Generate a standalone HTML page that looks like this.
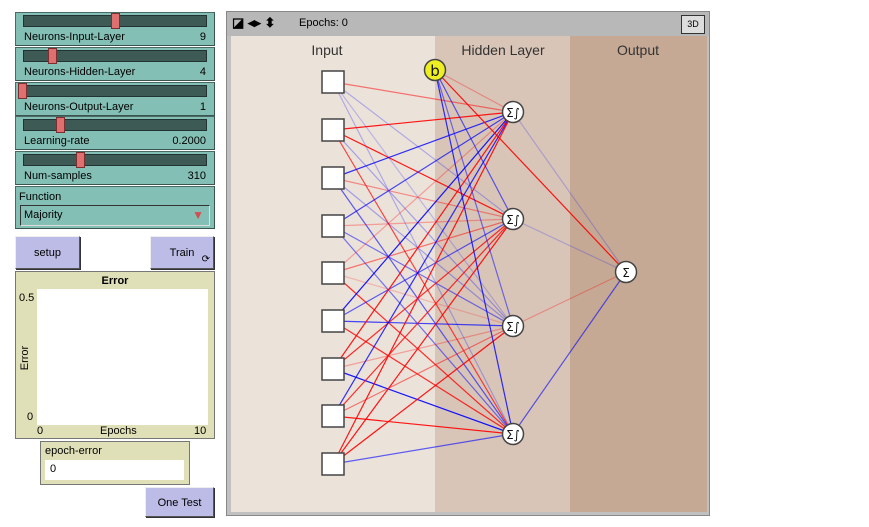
<!DOCTYPE html>
<html><head><meta charset="utf-8"><style>
body{margin:0;width:869px;height:527px;background:#fff;font-family:"Liberation Sans",sans-serif;font-size:11px;position:relative;overflow:hidden}
.a{position:absolute;box-sizing:border-box}
.sl{background:#84bfb5;border:1px solid #4a6a66;border-right-color:#3a5550;border-bottom-color:#3a5550}
.tr{position:absolute;left:7px;right:7px;top:2px;height:10px;background:#3d5a55;border:1px solid #233}
.kn{position:absolute;top:0px;width:7px;height:14px;background:#e07070;border:1px solid #7a3030}
.lb{position:absolute;left:8px;top:18px}
.vl{position:absolute;right:8px;top:18px}
.btn{background:#bcbce6;border:1px solid #555;border-top-color:#eee;border-left-color:#eee;box-shadow:1px 1px 0 #333;text-align:center}
</style></head><body>
<div class="a sl" style="left:15px;top:12px;width:200px;height:34px"><div class="tr"></div><div class="kn" style="left:95px"></div><span class="lb">Neurons-Input-Layer</span><span class="vl">9</span></div>
<div class="a sl" style="left:15px;top:47px;width:200px;height:34px"><div class="tr"></div><div class="kn" style="left:32px"></div><span class="lb">Neurons-Hidden-Layer</span><span class="vl">4</span></div>
<div class="a sl" style="left:15px;top:82px;width:200px;height:34px"><div class="tr"></div><div class="kn" style="left:2px"></div><span class="lb">Neurons-Output-Layer</span><span class="vl">1</span></div>
<div class="a sl" style="left:15px;top:116px;width:200px;height:34px"><div class="tr"></div><div class="kn" style="left:40px"></div><span class="lb">Learning-rate</span><span class="vl">0.2000</span></div>
<div class="a sl" style="left:15px;top:151px;width:200px;height:34px"><div class="tr"></div><div class="kn" style="left:60px"></div><span class="lb">Num-samples</span><span class="vl">310</span></div>
<div class="a sl" style="left:15px;top:186px;width:200px;height:43px"><span style="position:absolute;left:3px;top:4px">Function</span>
<div style="position:absolute;left:4px;right:4px;top:18px;height:19px;border:1px solid #333;border-right-color:#ddd;border-bottom-color:#ddd;background:#84bfb5"><span style="position:absolute;left:3px;top:3px">Majority</span><span style="position:absolute;right:5px;top:2px;color:#d05050;font-size:12px">▼</span></div></div>
<div class="a btn" style="left:15px;top:236px;width:65px;height:33px;line-height:33px">setup</div>
<div class="a btn" style="left:150px;top:236px;width:64px;height:33px;line-height:33px">Train <span style="position:absolute;right:3px;top:6px;font-size:10px">⟳</span></div>
<div class="a" style="left:15px;top:271px;width:200px;height:168px;background:#e0e0b8;border:1px solid #777">
<div style="position:absolute;left:0;right:0;top:3px;text-align:center;font-weight:bold">Error</div>
<div style="position:absolute;left:21px;top:17px;width:171px;height:136px;background:#fff"></div>
<span style="position:absolute;left:3px;top:20px">0.5</span><span style="position:absolute;left:11px;top:139px">0</span>
<span style="position:absolute;left:-3px;top:80px;transform:rotate(-90deg)">Error</span>
<span style="position:absolute;left:21px;top:153px">0</span><span style="position:absolute;left:84px;top:153px">Epochs</span><span style="position:absolute;left:178px;top:153px">10</span></div>
<div class="a" style="left:40px;top:441px;width:150px;height:44px;background:#e0e0b8;border:1px solid #777"><span style="position:absolute;left:4px;top:3px">epoch-error</span><div style="position:absolute;left:4px;top:18px;width:139px;height:20px;background:#fff"><span style="position:absolute;left:5px;top:3px">0</span></div></div>
<div class="a btn" style="left:145px;top:487px;width:69px;height:30px;line-height:30px">One Test</div>

<div class="a" style="left:226px;top:11px;width:484px;height:505px;border:1px solid #888;background:#c0c0c0">
<div style="position:absolute;left:0;top:0;width:482px;height:24px;background:#b8b8b8"><span style="position:absolute;left:5px;top:3px;font-size:13px;font-weight:bold">◪ ◂▸ ⬍</span><span style="position:absolute;left:72px;top:5px">Epochs: 0</span>
<div style="position:absolute;right:4px;top:3px;width:22px;height:17px;border:1px solid #333;background:#ddd;font-size:9px;text-align:center;line-height:17px">3D</div></div>
</div>
<svg class="a" style="left:231px;top:36px" width="476" height="476" viewBox="231 36 476 476">
<rect x="231" y="36" width="204" height="476" fill="#ebe2da"/><rect x="435" y="36" width="135" height="476" fill="#d8c5b8"/><rect x="570" y="36" width="137" height="476" fill="#c5a994"/>
<g font-family="Liberation Sans,sans-serif" font-size="14" fill="#333" text-anchor="middle"><text x="327" y="55">Input</text><text x="503" y="55">Hidden Layer</text><text x="638" y="55">Output</text></g>
<g stroke-width="1.2">
<line x1="333" y1="82" x2="513" y2="112" stroke="#f00" opacity=".5"/><line x1="333" y1="82" x2="513" y2="219" stroke="#00f" opacity=".25"/><line x1="333" y1="82" x2="513" y2="326" stroke="#00f" opacity=".2"/><line x1="333" y1="82" x2="513" y2="434" stroke="#00f" opacity=".25"/>
<line x1="333" y1="130" x2="513" y2="112" stroke="#f00" opacity=".9"/><line x1="333" y1="130" x2="513" y2="219" stroke="#f00" opacity=".9"/><line x1="333" y1="130" x2="513" y2="326" stroke="#00f" opacity=".3"/><line x1="333" y1="130" x2="513" y2="434" stroke="#f00" opacity=".7"/>
<line x1="333" y1="178" x2="513" y2="112" stroke="#00f" opacity=".8"/><line x1="333" y1="178" x2="513" y2="219" stroke="#f00" opacity=".4"/><line x1="333" y1="178" x2="513" y2="326" stroke="#00f" opacity=".3"/><line x1="333" y1="178" x2="513" y2="434" stroke="#00f" opacity=".6"/>
<line x1="333" y1="226" x2="513" y2="112" stroke="#00f" opacity=".7"/><line x1="333" y1="226" x2="513" y2="219" stroke="#f00" opacity=".3"/><line x1="333" y1="226" x2="513" y2="326" stroke="#00f" opacity=".5"/><line x1="333" y1="226" x2="513" y2="434" stroke="#00f" opacity=".5"/>
<line x1="333" y1="273" x2="513" y2="112" stroke="#f00" opacity=".3"/><line x1="333" y1="273" x2="513" y2="219" stroke="#f00" opacity=".5"/><line x1="333" y1="273" x2="513" y2="326" stroke="#f00" opacity=".2"/><line x1="333" y1="273" x2="513" y2="434" stroke="#f00" opacity=".8"/>
<line x1="333" y1="321" x2="513" y2="112" stroke="#00f" opacity=".9"/><line x1="333" y1="321" x2="513" y2="219" stroke="#00f" opacity=".6"/><line x1="333" y1="321" x2="513" y2="326" stroke="#00f" opacity=".7"/><line x1="333" y1="321" x2="513" y2="434" stroke="#f00" opacity=".8"/>
<line x1="333" y1="369" x2="513" y2="112" stroke="#f00" opacity=".9"/><line x1="333" y1="369" x2="513" y2="219" stroke="#f00" opacity=".8"/><line x1="333" y1="369" x2="513" y2="326" stroke="#f00" opacity=".3"/><line x1="333" y1="369" x2="513" y2="434" stroke="#00f" opacity=".9"/>
<line x1="333" y1="416" x2="513" y2="112" stroke="#00f" opacity=".8"/><line x1="333" y1="416" x2="513" y2="219" stroke="#f00" opacity=".8"/><line x1="333" y1="416" x2="513" y2="326" stroke="#f00" opacity=".5"/><line x1="333" y1="416" x2="513" y2="434" stroke="#f00" opacity=".9"/>
<line x1="333" y1="464" x2="513" y2="112" stroke="#f00" opacity=".9"/><line x1="333" y1="464" x2="513" y2="219" stroke="#f00" opacity=".9"/><line x1="333" y1="464" x2="513" y2="326" stroke="#f00" opacity=".9"/><line x1="333" y1="464" x2="513" y2="434" stroke="#00f" opacity=".6"/>
<line x1="435" y1="70" x2="513" y2="112" stroke="#f00" opacity=".3"/><line x1="435" y1="70" x2="513" y2="219" stroke="#00f" opacity=".6"/><line x1="435" y1="70" x2="513" y2="326" stroke="#00f" opacity=".5"/><line x1="435" y1="70" x2="513" y2="434" stroke="#00f" opacity=".8"/><line x1="435" y1="70" x2="626" y2="272" stroke="#f00" opacity=".9"/>
<line x1="513" y1="112" x2="626" y2="272" stroke="#00f" opacity=".2"/><line x1="513" y1="219" x2="626" y2="272" stroke="#00f" opacity=".2"/><line x1="513" y1="326" x2="626" y2="272" stroke="#f00" opacity=".3"/><line x1="513" y1="434" x2="626" y2="272" stroke="#00f" opacity=".6"/>
</g>
<g fill="#fff" stroke="#444" stroke-width="1.5">
<rect x="322" y="71" width="22" height="22"/><rect x="322" y="119" width="22" height="22"/><rect x="322" y="167" width="22" height="22"/><rect x="322" y="215" width="22" height="22"/><rect x="322" y="262" width="22" height="22"/><rect x="322" y="310" width="22" height="22"/><rect x="322" y="358" width="22" height="22"/><rect x="322" y="405" width="22" height="22"/><rect x="322" y="453" width="22" height="22"/>
<circle cx="513" cy="112" r="10.5"/><circle cx="513" cy="219" r="10.5"/><circle cx="513" cy="326" r="10.5"/><circle cx="513" cy="434" r="10.5"/><circle cx="626" cy="272" r="10.5"/>
<circle cx="435" cy="70" r="10.5" fill="#eeee22"/></g>
<g font-family="DejaVu Sans,sans-serif" font-size="12" fill="#111" text-anchor="middle"><text x="513" y="117">Σ∫</text><text x="513" y="224">Σ∫</text><text x="513" y="331">Σ∫</text><text x="513" y="439">Σ∫</text><text x="626" y="277">Σ</text><text x="435" y="76" font-size="15">b</text></g>
</svg>
</body></html>
